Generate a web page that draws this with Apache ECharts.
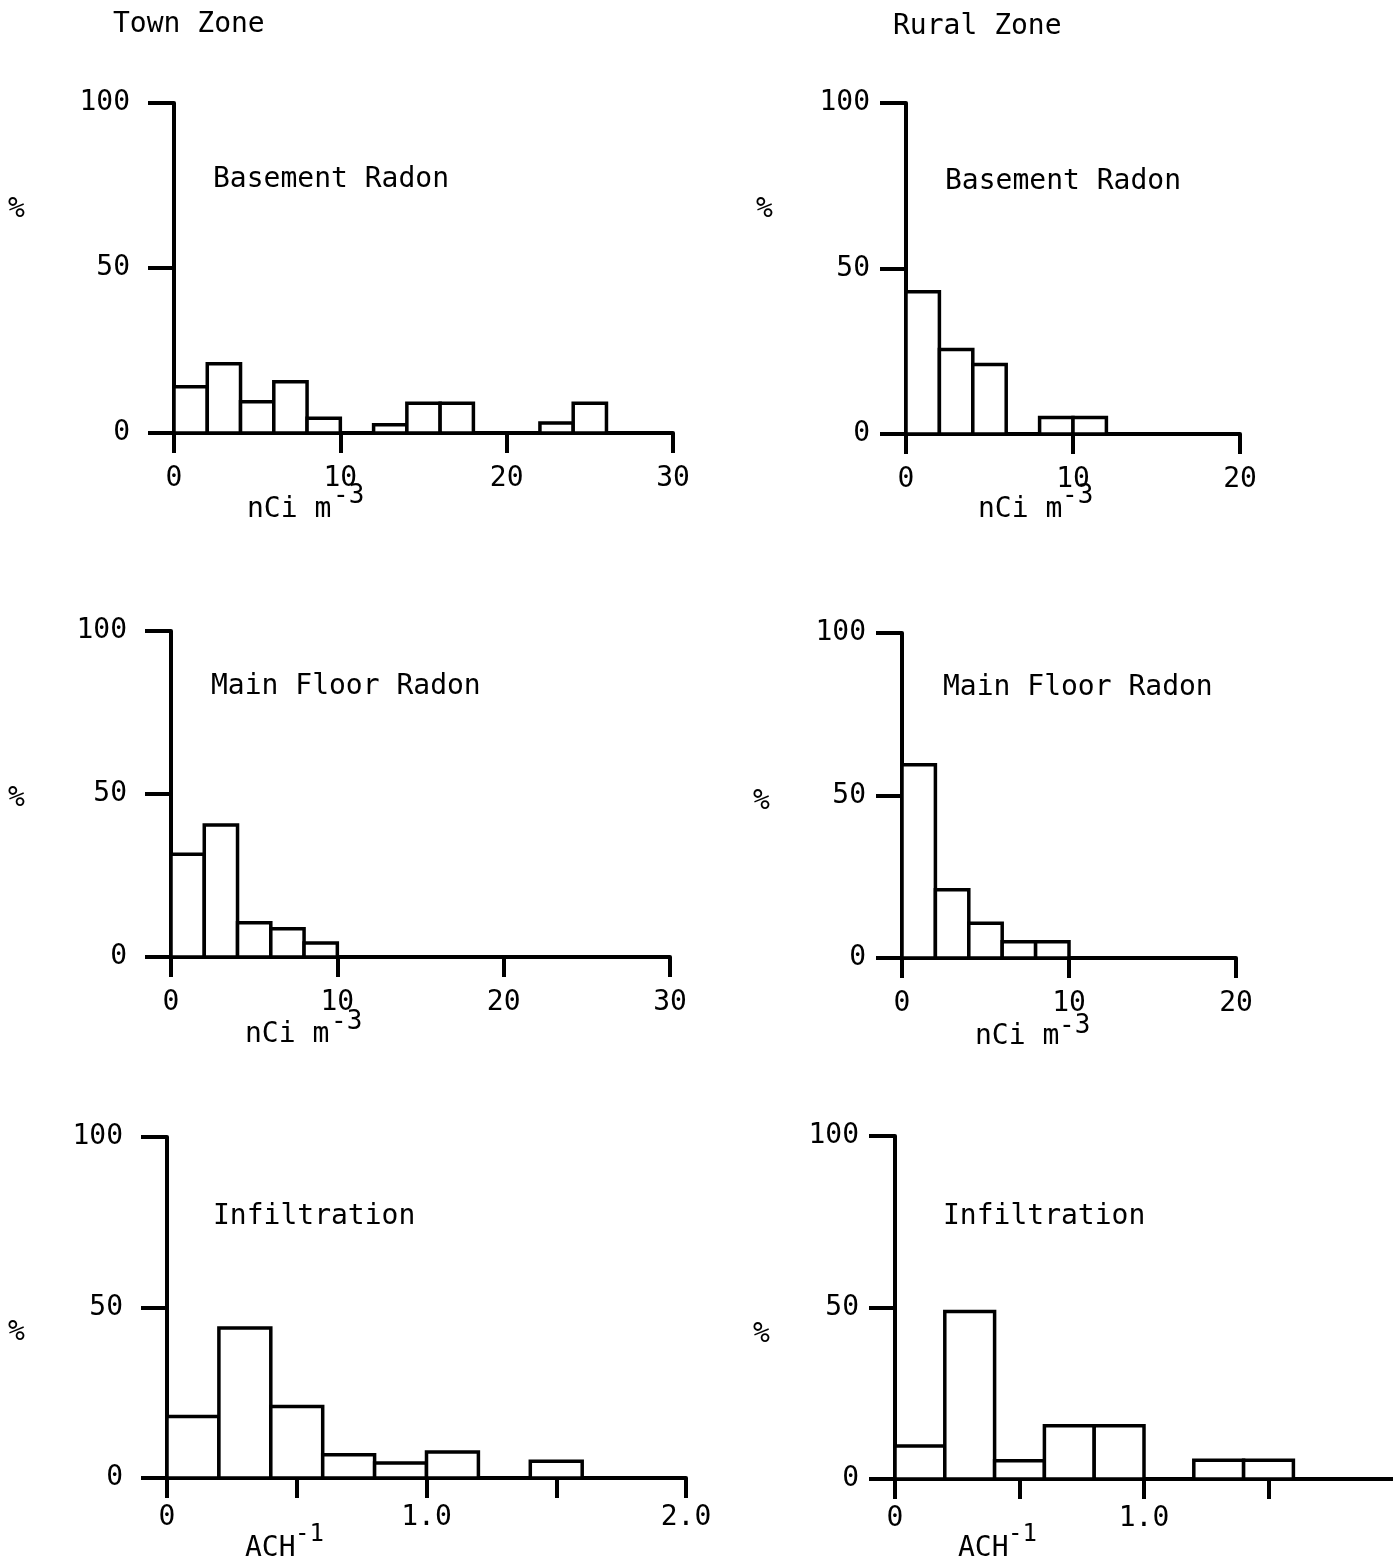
<!DOCTYPE html>
<html>
<head>
<meta charset="utf-8">
<script src="https://cdn.jsdelivr.net/npm/echarts@6/dist/echarts.min.js"></script>
<style>
  html, body { margin: 0; padding: 0; background: #fff; }
  #chart { width: 1393px; height: 1568px; }
</style>
</head>
<body>
<div id="chart"></div>
<script>
// bin left edges (nCi m-3, width 2) and (ACH-1, width 0.2)
var radonBinWidth = 2;
var achBinWidth = 0.2;
var townBasementBins = [0, 2, 4, 6, 8, 10, 12, 14, 16, 18, 20, 22, 24];
var townBasement     = [14, 21, 9.5, 15.5, 4.5, 0, 2.5, 9, 9, 0, 0, 3, 9];
var ruralBasementBins = [0, 2, 4, 6, 8, 10];
var ruralBasement     = [43, 25.5, 21, 0, 5, 5];
var townMainBins = [0, 2, 4, 6, 8];
var townMain     = [31.5, 40.5, 10.5, 8.7, 4.3];
var ruralMainBins = [0, 2, 4, 6, 8];
var ruralMain     = [59.5, 21, 10.7, 5, 5];
var townInfBins = [0, 0.2, 0.4, 0.6, 0.8, 1.0, 1.2, 1.4];
var townInf     = [18, 44, 21, 6.8, 4.4, 7.6, 0, 4.9];
var ruralInfBins = [0, 0.2, 0.4, 0.6, 0.8, 1.0, 1.2, 1.4];
var ruralInf     = [9.6, 48.8, 5.3, 15.5, 15.5, 0, 5.5, 5.5];

// tick labels
var radonTownTicks = [0, 10, 20, 30];
var radonRuralTicks = [0, 10, 20];
var achTownTicks = [0, 0.5, 1.0, 1.5, 2.0];
var achTownLabels = [0, 1.0, 2.0];
var achRuralTicks = [0, 0.5, 1.0, 1.5];
var achRuralLabels = [0, 1.0];

var FONT = 'DejaVu Sans Mono';

var chart = echarts.init(document.getElementById('chart'));

// panel geometry
var grids = [
  { left: 174, top: 103, width: 499, height: 330 },
  { left: 906, top: 103, width: 334, height: 331 },
  { left: 171, top: 631, width: 499, height: 326 },
  { left: 902, top: 633, width: 334, height: 325 },
  { left: 167, top: 1137, width: 519, height: 341 },
  { left: 895, top: 1136, width: 514, height: 343 }
];

function xAxisOf(idx, max, ticks, labels, isAch) {
  return {
    type: 'value', gridIndex: idx, min: 0, max: max,
    axisLine: { lineStyle: { color: '#000', width: 4 } },
    axisTick: { show: true, length: 20, customValues: ticks, lineStyle: { color: '#000', width: 4 } },
    axisLabel: {
      customValues: labels, margin: isAch ? 26 : 32, color: '#000', fontFamily: FONT, fontSize: 28,
      formatter: function (v) { return isAch ? (v === 0 ? '0' : v.toFixed(1)) : String(v); }
    },
    splitLine: { show: false }
  };
}

function yAxisOf(idx, margin) {
  return {
    type: 'value', gridIndex: idx, min: 0, max: 100, interval: 50,
    axisLine: { show: true, lineStyle: { color: '#000', width: 4 } },
    axisTick: { show: true, length: 26, lineStyle: { color: '#000', width: 4 } },
    axisLabel: { margin: margin, color: '#000', fontFamily: FONT, fontSize: 28 },
    splitLine: { show: false }
  };
}

function histSeries(idx, bins, width, values) {
  var data = [];
  for (var i = 0; i < values.length; i++) {
    if (values[i] > 0) data.push([bins[i], bins[i] + width, values[i]]);
  }
  return {
    type: 'custom', xAxisIndex: idx, yAxisIndex: idx, data: data,
    renderItem: function (params, api) {
      var p0 = api.coord([api.value(0), api.value(2)]);
      var p1 = api.coord([api.value(1), 0]);
      return {
        type: 'rect',
        shape: { x: p0[0], y: p0[1], width: p1[0] - p0[0], height: p1[1] - p0[1] },
        style: { fill: '#fff', stroke: '#000', lineWidth: 3.5 }
      };
    }
  };
}

// plain text placed by its left edge and vertical centre
function txt(x, y, s, size) {
  return {
    type: 'text', left: x, top: y - size * 0.4,
    style: { text: s, fill: '#000', font: size + 'px "' + FONT + '"' }
  };
}

var graphics = [
  txt(113, 22, 'Town Zone', 28),
  txt(893, 24, 'Rural Zone', 28),
  // panel titles
  txt(213, 177, 'Basement Radon', 28),
  txt(945, 179, 'Basement Radon', 28),
  txt(211, 684, 'Main Floor Radon', 28),
  txt(943, 685, 'Main Floor Radon', 28),
  txt(213, 1214, 'Infiltration', 28),
  txt(943, 1214, 'Infiltration', 28),
  // y labels
  txt(8, 207, '%', 28), txt(756, 207, '%', 28),
  txt(8, 796, '%', 28), txt(753, 799, '%', 28),
  txt(8, 1330, '%', 28), txt(753, 1332, '%', 28),
  // x axis names
  txt(247, 507, 'nCi m', 28), txt(333, 494, '-3', 26),
  txt(978, 507, 'nCi m', 28), txt(1062, 494, '-3', 26),
  txt(245, 1032, 'nCi m', 28), txt(331, 1020, '-3', 26),
  txt(975, 1034, 'nCi m', 28), txt(1059, 1024, '-3', 26),
  txt(245, 1546, 'ACH', 28), txt(295, 1532, '-1', 24),
  txt(958, 1546, 'ACH', 28), txt(1008, 1532, '-1', 24)
];

var option = {
  backgroundColor: '#fff',
  animation: false,
  grid: grids,
  xAxis: [
    xAxisOf(0, 30, radonTownTicks, radonTownTicks, false),
    xAxisOf(1, 20, radonRuralTicks, radonRuralTicks, false),
    xAxisOf(2, 30, radonTownTicks, radonTownTicks, false),
    xAxisOf(3, 20, radonRuralTicks, radonRuralTicks, false),
    xAxisOf(4, 2.0, achTownTicks, achTownLabels, true),
    xAxisOf(5, 2.0, achRuralTicks, achRuralLabels, true)
  ],
  yAxis: [
    yAxisOf(0, 44), yAxisOf(1, 36), yAxisOf(2, 44),
    yAxisOf(3, 36), yAxisOf(4, 44), yAxisOf(5, 36)
  ],
  series: [
    histSeries(0, townBasementBins, radonBinWidth, townBasement),
    histSeries(1, ruralBasementBins, radonBinWidth, ruralBasement),
    histSeries(2, townMainBins, radonBinWidth, townMain),
    histSeries(3, ruralMainBins, radonBinWidth, ruralMain),
    histSeries(4, townInfBins, achBinWidth, townInf),
    histSeries(5, ruralInfBins, achBinWidth, ruralInf)
  ],
  graphic: graphics
};

chart.setOption(option);
</script>
</body>
</html>
